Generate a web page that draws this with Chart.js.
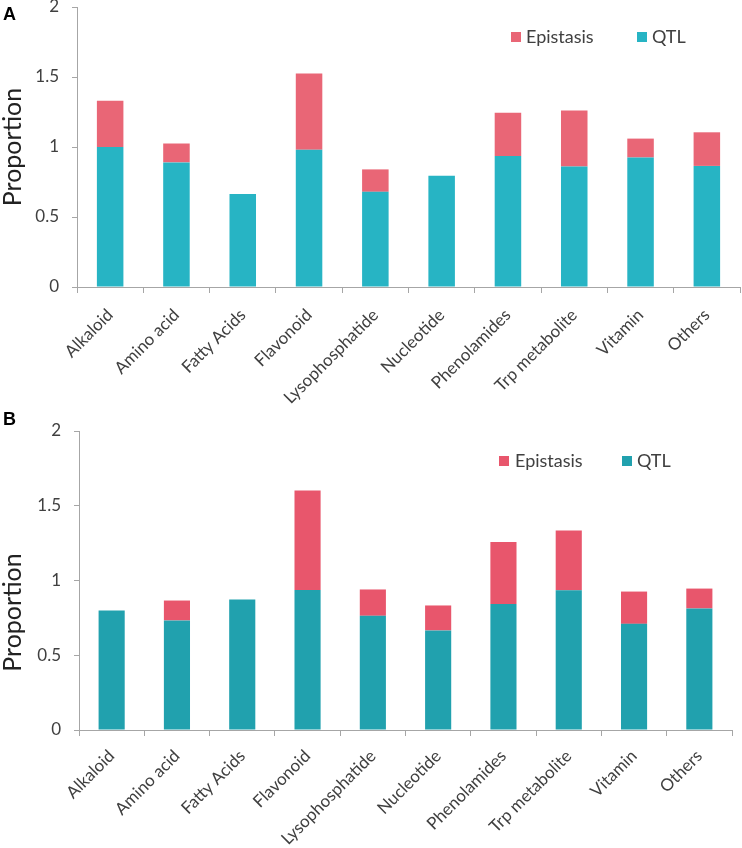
<!DOCTYPE html>
<html><head><meta charset="utf-8">
<script src="https://cdn.jsdelivr.net/npm/chart.js@4/dist/chart.umd.min.js"></script>
<style>
html,body{margin:0;padding:0;background:#fff;}
#wrapA{position:absolute;left:0;top:0;width:742px;height:410px;}
#wrapB{position:absolute;left:0;top:410px;width:742px;height:438px;}
</style></head><body>
<div id="wrapA"><canvas id="chartA"></canvas></div>
<div id="wrapB"><canvas id="chartB"></canvas></div>
<script>
// ---- data ----
const categories = ['Alkaloid','Amino acid','Fatty Acids','Flavonoid','Lysophosphatide','Nucleotide','Phenolamides','Trp metabolite','Vitamin','Others'];
const qtlA       = [1.00, 0.89, 0.665, 0.98, 0.68, 0.795, 0.935, 0.86, 0.925, 0.865];
const epistasisA = [0.33, 0.135, 0.00, 0.545, 0.16, 0.00, 0.31, 0.40, 0.135, 0.24];
const qtlB       = [0.80, 0.733, 0.873, 0.937, 0.764, 0.666, 0.842, 0.935, 0.71, 0.813];
const epistasisB = [0.00, 0.133, 0.00, 0.665, 0.176, 0.167, 0.416, 0.40, 0.216, 0.133];
const yTickValues = [0, 0.5, 1, 1.5, 2];
const yTickLabels = ['0', '0.5', '1', '1.5', '2'];
const seriesNames = ['QTL', 'Epistasis'];
const legendOrder = ['Epistasis', 'QTL'];

const FONT = 'Lato, "Open Sans", sans-serif';
const TEXT = '#404040';
const AXIS = '#a6a6a6';

const overlayPlugin = {
  id: 'overlay',
  afterDraw(chart, args, opts) {
    const ctx = chart.ctx;
    ctx.save();
    // panel letter
    ctx.font = 'bold 18px "Liberation Sans", Arial, sans-serif';
    ctx.fillStyle = '#000';
    ctx.textBaseline = 'top';
    ctx.textAlign = 'left';
    ctx.fillText(opts.letter, opts.letterX, opts.letterY);
    // legend
    ctx.font = '18px ' + FONT;
    ctx.textBaseline = 'middle';
    legendOrder.forEach((name, i) => {
      const ds = chart.data.datasets.find(d => d.label === name);
      const it = opts.legend[i];
      ctx.fillStyle = ds.backgroundColor;
      ctx.fillRect(it.boxX, opts.legendY - 5, 10, 10);
      ctx.fillStyle = TEXT;
      ctx.fillText(name, it.textX, opts.legendY);
    });
    ctx.restore();
  }
};

function makeChart(id, qtl, epi, colors, cfg) {
  return new Chart(document.getElementById(id), {
    type: 'bar',
    data: {
      labels: categories,
      datasets: [
        { label: seriesNames[0], data: qtl, backgroundColor: colors[0], barPercentage: 0.4, categoryPercentage: 1.0 },
        { label: seriesNames[1], data: epi, backgroundColor: colors[1], barPercentage: 0.4, categoryPercentage: 1.0 }
      ]
    },
    options: {
      responsive: true,
      maintainAspectRatio: false,
      animation: false,
      layout: { padding: cfg.padding },
      plugins: {
        legend: { display: false },
        tooltip: { enabled: false },
        overlay: cfg.overlay
      },
      scales: {
        x: {
          stacked: true,
          grid: { display: true, offset: true, drawOnChartArea: false, tickLength: 6, color: AXIS, tickColor: AXIS },
          border: { display: true, color: AXIS, width: 1 },
          ticks: { minRotation: 45, maxRotation: 45, autoSkip: false, padding: cfg.xPad, color: TEXT, font: { family: FONT, size: 17 } },
          afterFit(s) { s.height = cfg.xHeight; s.paddingLeft = 0; s.paddingRight = 0; }
        },
        y: {
          stacked: true,
          min: 0, max: 2,
          afterBuildTicks(s) { s.ticks = yTickValues.map(v => ({ value: v })); },
          grid: { display: true, drawOnChartArea: false, tickLength: 5, color: AXIS, tickColor: AXIS },
          border: { display: true, color: AXIS, width: 1 },
          ticks: { padding: 13, color: TEXT, font: { family: FONT, size: 17 },
                   callback: (v) => yTickLabels[yTickValues.indexOf(v)] },
          title: { display: true, text: cfg.title, color: '#222', padding: 0, font: { family: FONT, size: 25, lineHeight: 1 } },
          afterFit(s) { s.width = cfg.yWidth; s.paddingTop = 0; s.paddingBottom = 0; }
        }
      }
    },
    plugins: [overlayPlugin]
  });
}

makeChart('chartA', qtlA, epistasisA, ['#27b4c4', '#e96676'], {
  padding: { top: 7, right: 2, left: 0, bottom: 0 },
  xHeight: 123, yWidth: 77, xPad: 12, title: 'Proportion',
  overlay: { letter: 'A', letterX: 3, letterY: 6, legendY: 37,
    legend: [{ boxX: 511, textX: 526 }, { boxX: 637, textX: 652 }] }
});
makeChart('chartB', qtlB, epistasisB, ['#21a1ae', '#e8566c'], {
  padding: { top: 21, right: 10, left: 0, bottom: 0 },
  xHeight: 118, yWidth: 79, xPad: 10, title: 'Proportion          ',
  overlay: { letter: 'B', letterX: 3, letterY: 1, legendY: 51,
    legend: [{ boxX: 499, textX: 515 }, { boxX: 622, textX: 637 }] }
});
</script>
</body></html>
